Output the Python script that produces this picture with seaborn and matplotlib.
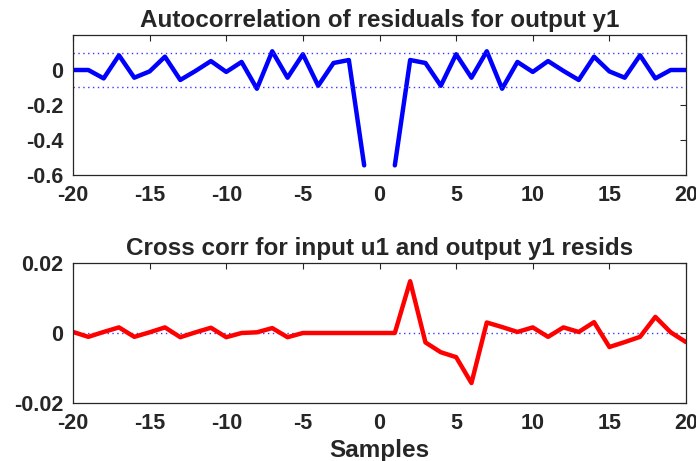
import numpy as np
import pandas as pd
import matplotlib
matplotlib.use('Agg')
import matplotlib.pyplot as plt
import seaborn as sns

# ── Data ─────────────────────────────────────────────
lags = list(range(-20, 21))

# autocorrelation of residuals (lag 0 left out -> gap)
acf_pos = [-0.545, 0.057, 0.040, -0.090, 0.090, -0.044, 0.107, -0.107, 0.046, -0.011,
           0.051, -0.005, -0.057, 0.076, -0.008, -0.044, 0.084, -0.048, 0.0, 0.0]
acf_neg = acf_pos[::-1]
acf_vals = acf_neg + [np.nan] + acf_pos

# cross correlation input u1 / output y1 residuals
ccf_vals = [0.0003, -0.0011, 0.0003, 0.0016, -0.0011, 0.0002, 0.0016, -0.0012, 0.0002, 0.0015,
            -0.0012, 0.0, 0.0002, 0.0014, -0.0012, 0.0, 0.0, 0.0, 0.0, 0.0,
            0.0, 0.0, 0.0148, -0.0027, -0.0055, -0.0069, -0.0143, 0.0030, 0.0017, 0.0003,
            0.0016, -0.0011, 0.0016, 0.0003, 0.0031, -0.0040, -0.0026, -0.0011, 0.0046, 0.0002,
            -0.0026]

acf_conf = 0.095
ccf_conf = 0.0

df = pd.DataFrame({'lag': lags, 'acf': acf_vals, 'ccf': ccf_vals})

# ── Plot ─────────────────────────────────────────────
sns.set_style('white')
plt.rcParams['font.family'] = ['Liberation Sans', 'DejaVu Sans']
plt.rcParams['font.weight'] = 'bold'

fig = plt.figure(figsize=(6.96, 4.61), dpi=100)
ax1 = fig.add_axes([73 / 696, 1 - 175 / 461, 613 / 696, 140 / 461])
ax2 = fig.add_axes([73 / 696, 1 - 403 / 461, 613 / 696, 140 / 461])

for part in (df[df.lag < 0], df[df.lag > 0]):
    sns.lineplot(data=part, x='lag', y='acf', ax=ax1, color='#0000ff', lw=3.2)
for c in (acf_conf, -acf_conf):
    ax1.axhline(c, color='#3838ff', ls=(0, (1, 2.5)), lw=1.0)
ax1.set_ylim(-0.6, 0.2)
ax1.set_yticks([0, -0.2, -0.4, -0.6])
ax1.set_yticklabels(['0', '-0.2', '-0.4', '-0.6'])
ax1.set_title('Autocorrelation of residuals for output y1', fontsize=17.5,
              fontweight='bold', pad=6)

sns.lineplot(data=df, x='lag', y='ccf', ax=ax2, color='#ff0000', lw=3.2)
ax2.axhline(ccf_conf, color='#3838ff', ls=(0, (1, 2.5)), lw=1.0, zorder=0)
ax2.set_ylim(-0.02, 0.02)
ax2.set_yticks([0.02, 0, -0.02])
ax2.set_yticklabels(['0.02', '0', '-0.02'])
ax2.set_title('Cross corr for input u1 and output y1 resids', fontsize=17.5,
              fontweight='bold', pad=6)
ax2.set_xlabel('Samples', fontsize=17.5, fontweight='bold', labelpad=4)

xt = [-20, -15, -10, -5, 0, 5, 10, 15, 20]
for ax in (ax1, ax2):
    ax.set_xlim(-20, 20)
    ax.set_xticks(xt)
    ax.set_xticklabels([str(v) for v in xt])
    ax.tick_params(direction='in', length=4, width=0.8, colors='#262626',
                   labelsize=15.5, top=True, right=True, labelcolor='#262626', pad=7)
    for s in ax.spines.values():
        s.set_color('#262626')
        s.set_linewidth(0.9)
    if ax is ax1:
        ax.set_xlabel('')
    ax.set_ylabel('')

fig.savefig('out.png', dpi=100)
